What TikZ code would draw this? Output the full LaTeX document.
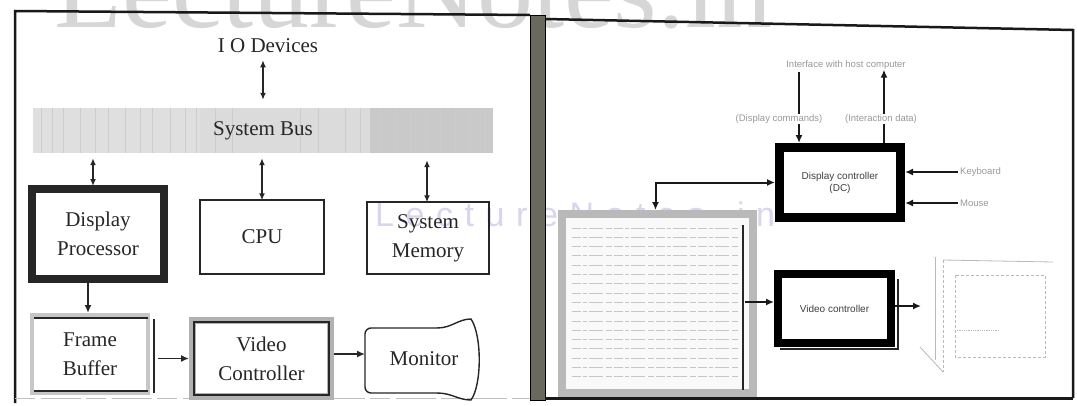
\documentclass[tikz,border=0pt]{standalone}
\usepackage{fontspec}
\setmainfont{Liberation Serif}
\newfontfamily\sansf{Liberation Sans}
\usetikzlibrary{arrows.meta}
\definecolor{lav}{RGB}{218,212,238}
\definecolor{barcol}{RGB}{105,105,92}
\begin{document}
\begin{tikzpicture}[x=1pt,y=-1pt,
  lbl/.style={font=\fontsize{21}{29}\selectfont, text=black!85, align=center, inner sep=0pt},
  rlbl/.style={font=\sansf\fontsize{10}{12}\selectfont, text=black!75, align=center},
  faint/.style={font=\sansf\fontsize{9.5}{11}\selectfont, text=black!40, inner sep=2pt},
  darr/.style={{Latex[length=7pt,width=6pt]}-{Latex[length=7pt,width=6pt]}, line width=1.7pt, black!85},
  arr/.style={-{Latex[length=8pt,width=7pt]}, line width=1.7pt, black!85},
  rarr/.style={-{Latex[length=8pt,width=7pt]}, line width=2pt, black!90},
]
\useasboundingbox (0,0) rectangle (1077,405);
\fill[white] (0,0) rectangle (1077,405);
% watermarks
\node[font=\fontsize{112}{112}\selectfont, text=gray!32, anchor=base west, inner sep=0pt] (wmtop) at (54,27) {LectureNotes.in};
\node[font=\sansf\fontsize{34}{34}\selectfont\addfontfeature{LetterSpace=34}, text=lav, anchor=base west, inner sep=0pt] (wmmid) at (375,226) {LectureNotes.in};

% ---------- left panel frame ----------
\draw[line width=2.5pt, black!90] (15,403) -- (15,11) -- (530,15);
\draw[gray!50, line width=1pt, dash pattern=on 20pt off 6pt on 40pt off 5pt] (15,398) -- (530,398);
% separator bar
\draw[black, fill=barcol, line width=1pt] (530,15) rectangle (545,400);

% ---------- left panel ----------
\node[lbl] (io) at (268,46) {I O Devices};
\fill[gray!25] (33,108) rectangle (200,153);
\fill[gray!28] (200,108) rectangle (370,153);
\fill[gray!42] (370,108) rectangle (493,153);
\foreach \xx in {41,52,63,80,95,108,125,140,152,170,185,196,215,232,300,318,345,360,380,396,410,425,440,455,470,485}
  \draw[gray!40, line width=0.5pt] (\xx,108) -- (\xx,153);
\node[lbl, minimum width=460pt, minimum height=45pt] (bus) at (263,130.5) {System Bus};

\node[lbl, draw=black!85, line width=7pt, minimum width=133pt, minimum height=91pt, fill=white] (dp) at (98,234) {Display\\Processor};
\draw[black!85, line width=1.2pt] ([xshift=7pt,yshift=-7pt]dp.north west) rectangle ([xshift=-7pt,yshift=7pt]dp.south east);

\node[lbl, draw=black!85, line width=1.5pt, minimum width=124pt, minimum height=74pt] (cpu) at (262,237) {CPU};
\node[lbl, draw=black!85, line width=1.5pt, minimum width=122pt, minimum height=72pt] (mem) at (428,238) {System\\Memory};

\node[lbl, draw=gray!45, line width=4pt, minimum width=116pt, minimum height=78pt] (fb) at (90,354) {Frame\\Buffer};
\draw[black!85, line width=1.2pt] ([xshift=4pt,yshift=-5pt]fb.north west) -- ([xshift=-2pt,yshift=-5pt]fb.north east);
\draw[black!85, line width=1.2pt] ([xshift=4pt,yshift=4pt]fb.south west) -- ([xshift=-2pt,yshift=4pt]fb.south east);
\draw[black!85, line width=1.6pt] ([xshift=4pt,yshift=-6pt]fb.north east) -- ([xshift=4pt,yshift=2pt]fb.south east);

\node[lbl, draw=gray!60, line width=7pt, minimum width=138pt, minimum height=76pt] (vc) at (261.5,358.5) {Video\\Controller};
\draw[black!85, line width=1.2pt] ([xshift=5pt,yshift=-5pt]vc.north west) rectangle ([xshift=-5pt,yshift=5pt]vc.south east);

% monitor
\draw[black!85, line width=1.4pt, rounded corners=6pt] (437,328) -- (365,328) -- (365,393) -- (437,393);
\draw[black!85, line width=1.4pt] (437,328) .. controls (452,328) and (458,319) .. (471,319)
   .. controls (482,335) and (482,385) .. (471,400)
   .. controls (458,400) and (452,393) .. (437,393);
\node[lbl] (mon) at (424,359) {Monitor};
\coordinate (monw) at (365,354);

% left arrows
\draw[darr, shorten <=7pt, shorten >=8pt] (io.south -| bus.north) -- (bus.north);
\draw[darr, shorten <=5pt] ([xshift=-5pt]dp.north |- bus.south) -- ([xshift=-5pt,yshift=-1pt]dp.north);
\draw[darr, shorten <=5pt] (cpu.north |- bus.south) -- ([yshift=-1pt]cpu.north);
\draw[darr, shorten <=7pt] ([xshift=-1pt]mem.north |- bus.south) -- ([xshift=-1pt,yshift=-1pt]mem.north);
\draw[arr] ([xshift=-2pt]fb.north |- dp.south) -- ([xshift=-2pt]fb.north);
\draw[arr, shorten <=8pt] (fb.east |- vc.west) -- (vc.west);
\draw[arr] (vc.east |- monw) -- (monw);

% ---------- right panel frame ----------
\draw[black!90, line width=2.5pt] (545,19) -- (1073,30) -- (1073,398);
\draw[black!90, line width=3pt] (545,398) -- (1073,398);

% ---------- right panel ----------
\node[faint] (iface) at (846,65) {Interface with host computer};
\node[rlbl, draw=black, line width=9pt, minimum width=121pt, minimum height=70pt] (dc) at (840,182.5) {Display controller\\(DC)};
\coordinate (dn) at ([xshift=-41pt]dc.north);
\coordinate (up) at ([xshift=44pt]dc.north);
\draw[rarr] (dn |- iface.south) -- (dn);
\draw[rarr] (up) -- ([yshift=2pt]up |- iface.south);
\node[faint, fill=white, inner sep=1pt] (dcmd) at (779,119) {(Display commands)};
\node[faint, fill=white, inner sep=1pt] (idata) at (881,119) {(Interaction data)};

\node[faint, anchor=west] (kb) at (958,172) {Keyboard};
\node[faint, anchor=west] (mouse) at (958,203) {Mouse};
\draw[rarr] (kb.west) -- (dc.east |- kb.west);
\draw[rarr] (mouse.west) -- (dc.east |- mouse.west);

% big frame-buffer image
\node[draw=gray!55, line width=8pt, fill=gray!5, minimum width=191pt, minimum height=179pt, inner sep=0pt] (bb) at (657.5,303.5) {};
\foreach \r in {0,...,16}
  \draw[gray!45, line width=0.9pt, dash pattern=on 9pt off 2pt on 4pt off 2pt on 14pt off 3pt on 6pt off 2pt]
    (572,{228+\r*9.3}) -- (738,{228+\r*9.3});
\draw[black!85, line width=2pt] (743,225) -- (743,390);
\draw[{Latex[length=8pt,width=7pt]}-{Latex[length=8pt,width=7pt]}, line width=2pt, black!90] ([xshift=-2pt]bb.north) |- (dc.west);

\node[rlbl, draw=black, line width=8pt, minimum width=113pt, minimum height=69pt] (vcr) at (834.5,308.5) {Video controller};
\draw[black!85, line width=2pt] (898,279) -- (898,349) -- (780,349);
\coordinate (bbr) at (745,302);
\draw[rarr] (bbr) -- (vcr.west |- bbr);
\coordinate (scr) at (921,306);
\draw[rarr] (vcr.east |- scr) -- (scr);

% monitor wireframe
\begin{scope}[gray!55, line width=0.8pt]
\draw (935,257) -- (935,360);
\draw (943,260) -- (1053,262);
\draw[densely dashed] (943,260) -- (943,372);
\draw[densely dashed] (955,275) rectangle (1045,357);
\draw (920,347) -- (943,372);
\draw[densely dotted] (955,330) -- (1000,330);
\end{scope}
\end{tikzpicture}
\end{document}
